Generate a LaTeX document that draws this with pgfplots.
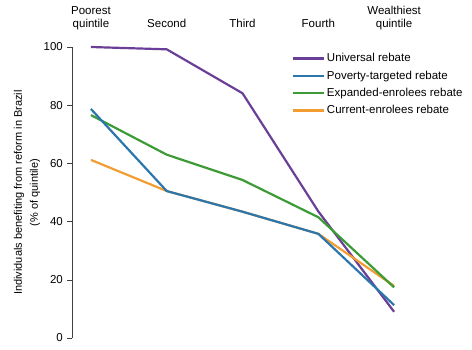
\documentclass[border=0pt]{standalone}
\usepackage{fontspec}
\setmainfont{Liberation Sans}
\usepackage{pgfplots}
\pgfplotsset{compat=1.18}
\definecolor{cpurple}{RGB}{107,63,151}
\definecolor{cblue}{RGB}{43,119,173}
\definecolor{cgreen}{RGB}{60,155,53}
\definecolor{corange}{RGB}{243,156,50}
\begin{document}
\begin{tikzpicture}
\useasboundingbox (-72bp,-12bp) rectangle (400bp,338bp);
\begin{axis}[
  at={(0,0)}, anchor=south west,
  scale only axis, width=360bp, height=291bp,
  xmin=-0.25, xmax=4.5, ymin=0, ymax=100,
  axis y line=left, axis x line=top,
  x axis line style={draw=none},
  y axis line style={draw=black!75, line width=0.6pt, -},
  xtick={0,1,2,3,4},
  xticklabels={{Poorest\\quintile},{Second},{Third},{Fourth},{Wealthiest\\quintile}},
  xtick style={draw=none},
  xticklabel style={align=center, anchor=south, text depth=0pt, inner sep=0pt, yshift=14bp, font=\fontsize{11.5bp}{13.5bp}\selectfont},
  ytick={0,20,40,60,80,100},
  ytick style={draw=black!75, line width=0.6pt},
  tick align=outside, major tick length=5bp,
  yticklabel style={font=\fontsize{11.5bp}{13.5bp}\selectfont, inner sep=0pt, xshift=-4bp},
  /pgf/number format/assume math mode=true,
  ylabel={Individuals benefiting from reform in Brazil\\(\% of quintile)},
  ylabel style={align=center, font=\fontsize{11bp}{16bp}\selectfont},
  legend cell align=left,
  legend style={draw=none, fill=none, at={(0.61,0.985)}, anchor=north west, inner sep=0pt,
    font=\fontsize{11.5bp}{13.5bp}\selectfont, row sep=3.5bp},
  legend image code/.code={\draw[#1, line width=2.2pt] (0bp,0bp) -- (24bp,0bp); \path (0bp,0bp) -- (31bp,0bp);},
  every axis plot/.append style={line width=2.2pt, line join=round},
  clip=false,
]
\addplot[cpurple, forget plot] coordinates {(0,100) (1,99.2) (2,84.1) (3,43.5) (4,9)};
\addplot[corange, forget plot] coordinates {(0,61.2) (1,50.5) (2,43.4) (3,35.8) (4,17.9)};
\addplot[cgreen, forget plot] coordinates {(0,76.6) (1,63) (2,54.3) (3,41.5) (4,17.4)};
\addplot[cblue, forget plot] coordinates {(0,78.7) (1,50.5) (2,43.4) (3,35.8) (4,11.3)};
\addlegendimage{cpurple}\addlegendentry{Universal rebate}
\addlegendimage{cblue}\addlegendentry{Poverty-targeted rebate}
\addlegendimage{cgreen}\addlegendentry{Expanded-enrolees rebate}
\addlegendimage{corange}\addlegendentry{Current-enrolees rebate}
\end{axis}
\end{tikzpicture}
\end{document}
